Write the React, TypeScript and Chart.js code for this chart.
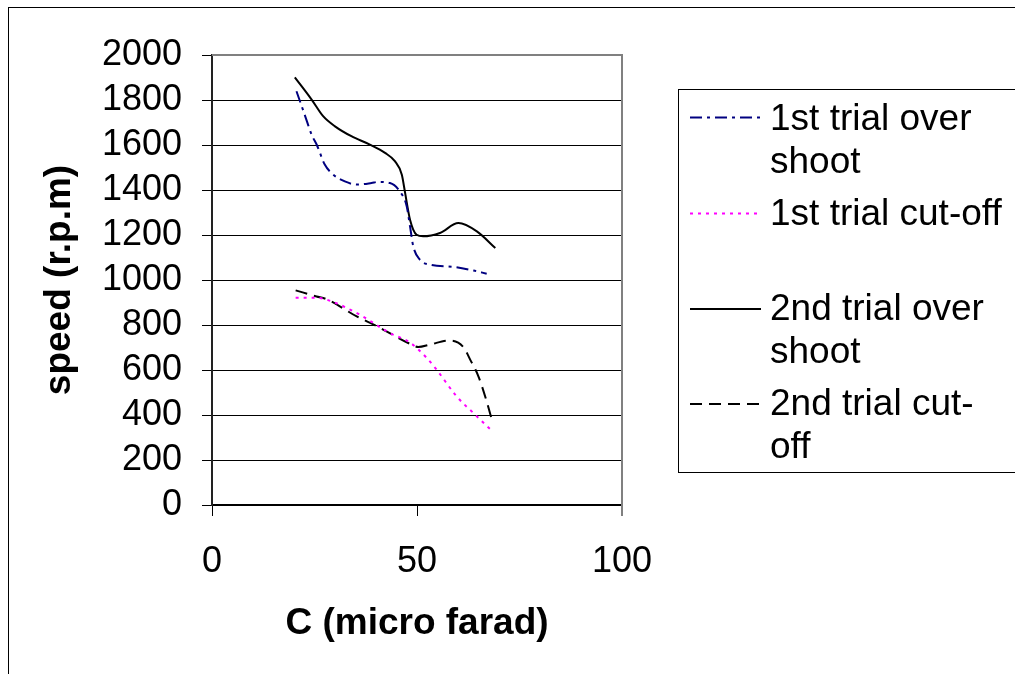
import { useEffect, useRef } from "react";
import { Chart, registerables } from "chart.js";

Chart.register(...registerables);

const FONT = "'Liberation Sans', Arial, sans-serif";

// Series names and how they wrap inside the legend box
const seriesNames = [
  "1st trial over shoot",
  "1st trial cut-off",
  "2nd trial over shoot",
  "2nd trial cut-off",
];
const legendLines = [
  ["1st trial over", "shoot"],
  ["1st trial cut-off"],
  ["2nd trial over", "shoot"],
  ["2nd trial cut-", "off"],
];

// Capacitance (micro farad) and speed (r.p.m) for each run
const overShoot1C = [20.6, 22.6, 24.3, 25.6, 27.5, 29.6, 32.4, 35.3, 38.9, 40.5, 43.4, 45.8, 47.5, 48.3, 49.1, 50.7, 53.2, 58.9, 63.8, 67];
const overShoot1Speed = [1839, 1735, 1646, 1599, 1513, 1468, 1438, 1424, 1431, 1436, 1431, 1394, 1327, 1238, 1149, 1090, 1068, 1058, 1042, 1028];

const cutOff1C = [20.4, 25.5, 29.6, 36.1, 43.4, 48.3, 52.4, 54.8, 59.7, 63.8, 67.8];
const cutOff1Speed = [921, 921, 902, 845, 764, 722, 653, 601, 482, 408, 338];

const overShoot2C = [20.2, 24.3, 27.1, 30, 34, 38.5, 42.2, 44.6, 46.3, 47.1, 48.3, 49.9, 51.5, 55.6, 60.1, 64.6, 69.1];
const overShoot2Speed = [1901, 1802, 1728, 1683, 1639, 1602, 1565, 1528, 1468, 1387, 1268, 1201, 1194, 1209, 1253, 1216, 1142];

const cutOff2C = [20.4, 25.5, 27.9, 35.3, 40.1, 48.3, 50.3, 53.2, 57.7, 61.3, 63, 65, 67, 68.5];
const cutOff2Speed = [954, 927, 915, 838, 796, 716, 702, 713, 731, 702, 645, 571, 460, 363];

// Axis ranges
const xMin = 0, xMax = 100, xStep = 50;
const yMin = 0, yMax = 2000, yStep = 200;

const toPoints = (xs: number[], ys: number[]) => xs.map((x, i) => ({ x, y: ys[i] }));

export default function App() {
  const ref = useRef<HTMLCanvasElement>(null);

  useEffect(() => {
    const canvas = ref.current;
    if (!canvas) return;

    const frame = {
      id: "frame",
      beforeDraw(chart: any) {
        const { ctx, width, height } = chart;
        ctx.save();
        ctx.fillStyle = "#ffffff";
        ctx.fillRect(0, 0, width, height);
        ctx.restore();
      },
      afterDatasetsDraw(chart: any) {
        const { ctx, chartArea } = chart;
        ctx.save();
        ctx.strokeStyle = "#808080";
        ctx.lineWidth = 2;
        ctx.beginPath();
        ctx.moveTo(chartArea.left, chartArea.top);
        ctx.lineTo(chartArea.right, chartArea.top);
        ctx.lineTo(chartArea.right, chartArea.bottom + 11);
        ctx.stroke();
        ctx.restore();
      },
      afterDraw(chart: any) {
        const { ctx } = chart;
        ctx.save();
        // outer frame
        ctx.strokeStyle = "#000000";
        ctx.lineWidth = 1;
        ctx.strokeRect(8.5, 7.5, 1200, 900);

        // legend box
        ctx.strokeRect(678.5, 89.5, 400, 383);
        const sampleY = [117.5, 213.5, 309, 404];
        const baseY = [130, 225, 320, 415];
        ctx.font = `37px ${FONT}`;
        ctx.textBaseline = "alphabetic";
        ctx.textAlign = "left";
        chart.data.datasets.forEach((ds: any, i: number) => {
          ctx.strokeStyle = ds.borderColor;
          ctx.lineWidth = ds.borderWidth;
          ctx.setLineDash(ds.borderDash || []);
          ctx.beginPath();
          ctx.moveTo(690, sampleY[i]);
          ctx.lineTo(761, sampleY[i]);
          ctx.stroke();
          ctx.setLineDash([]);
          ctx.fillStyle = "#000000";
          legendLines[i].forEach((line, j) => {
            ctx.fillText(line, 770, baseY[i] + j * 43);
          });
        });
        ctx.restore();
      },
    };

    const lineStyle = {
      borderWidth: 2,
      pointRadius: 0,
      fill: false,
      tension: 0.4,
      cubicInterpolationMode: "monotone" as const,
    };

    const chart = new Chart(canvas, {
      type: "line",
      data: {
        datasets: [
          {
            label: seriesNames[0],
            data: toPoints(overShoot1C, overShoot1Speed),
            borderColor: "#000080",
            borderDash: [12, 5, 3, 5],
            ...lineStyle,
          },
          {
            label: seriesNames[1],
            data: toPoints(cutOff1C, cutOff1Speed),
            borderColor: "#ff00ff",
            borderDash: [3, 5],
            ...lineStyle,
          },
          {
            label: seriesNames[2],
            data: toPoints(overShoot2C, overShoot2Speed),
            borderColor: "#000000",
            borderDash: [],
            ...lineStyle,
          },
          {
            label: seriesNames[3],
            data: toPoints(cutOff2C, cutOff2Speed),
            borderColor: "#000000",
            borderDash: [12, 7],
            ...lineStyle,
          },
        ],
      },
      options: {
        responsive: false,
        animation: false,
        devicePixelRatio: 1,
        layout: { padding: { left: 0, right: 393, top: 55, bottom: 0 } },
        plugins: {
          legend: { display: false },
          tooltip: { enabled: false },
        },
        scales: {
          x: {
            type: "linear",
            min: xMin,
            max: xMax,
            ticks: {
              stepSize: xStep,
              autoSkip: false,
              maxRotation: 0,
              padding: 24,
              color: "#000000",
              font: { family: FONT, size: 36 },
              callback: (v: any) => String(v),
            },
            grid: {
              drawOnChartArea: false,
              color: "#000000",
              tickLength: 11,
              lineWidth: 1,
            },
            border: { color: "#000000", width: 1.5 },
            title: {
              display: true,
              text: "C (micro farad)",
              color: "#000000",
              font: { family: FONT, size: 37, weight: "bold" },
              padding: { top: 0, bottom: 28 },
            },
            afterFit: (scale: any) => {
              scale.height = 169;
            },
          },
          y: {
            type: "linear",
            min: yMin,
            max: yMax,
            ticks: {
              stepSize: yStep,
              autoSkip: false,
              padding: 20,
              color: "#000000",
              font: { family: FONT, size: 36 },
              callback: (v: any) => String(v),
            },
            grid: {
              color: "#000000",
              tickLength: 10,
              lineWidth: 1,
            },
            border: { color: "#222222", width: 2 },
            title: {
              display: true,
              text: "speed (r.p.m)",
              color: "#000000",
              font: { family: FONT, size: 37, weight: "bold" },
              padding: { top: 38, bottom: 0 },
            },
            afterFit: (scale: any) => {
              scale.width = 212;
            },
          },
        },
      },
      plugins: [frame],
    });

    return () => chart.destroy();
  }, []);

  return (
    <div style={{ position: "absolute", left: 0, top: 0, width: 1015, height: 674, background: "#ffffff" }}>
      <canvas ref={ref} width={1015} height={674} style={{ display: "block" }} />
    </div>
  );
}
